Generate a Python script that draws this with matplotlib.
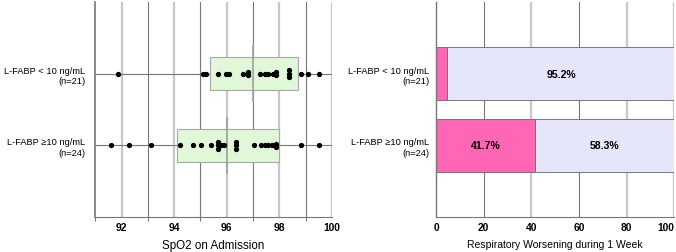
import numpy as np
import matplotlib.pyplot as plt

plt.rcParams['font.family'] = ['Liberation Sans', 'DejaVu Sans']

groups = ["L-FABP < 10 ng/mL\n(n=21)", "L-FABP \u226510 ng/mL\n(n=24)"]

spo2_low = [91.88, 95.11, 95.23, 95.67, 95.97, 96.10, 96.61, 96.82, 96.82,
            97.28, 97.44, 97.59, 97.76, 97.89, 97.89, 98.37, 98.37, 98.37,
            98.84, 99.10, 99.52]
spo2_high = [91.60, 92.29, 93.12, 94.21, 94.73, 95.01, 95.42, 95.67, 95.67,
             95.67, 95.78, 95.91, 96.36, 96.36, 96.36, 97.05, 97.31, 97.44,
             97.57, 97.72, 97.86, 97.86, 98.84, 99.52]

# box: q1, median, q3
box_low = [95.38, 97.0, 98.72]
box_high = [94.11, 96.0, 98.0]

worse_pct = [4.8, 41.7]
not_worse_pct = [95.2, 58.3]


def stack_offsets(vals, step=0.046):
    vals = np.asarray(vals)
    off = np.zeros(len(vals))
    for v in np.unique(vals):
        idx = np.where(vals == v)[0]
        k = len(idx)
        off[idx] = (np.arange(k) - (k - 1) / 2) * step
    return off


fig = plt.figure(figsize=(6.76, 2.53), dpi=100)
ax1 = fig.add_axes([0.141, 0.138, 0.3498, 0.85])
ax2 = fig.add_axes([0.645, 0.138, 0.3527, 0.85])

dark = '#777777'
light = '#c8c8c8'

# ---- left: dot + box plot ----
ax1.set_xlim(91, 100)
ax1.set_ylim(0, 3)
for v in range(92, 101, 2):
    ax1.axvline(v, color=light, lw=1.6, zorder=0)
for v in range(93, 100, 2):
    ax1.axvline(v, color=dark, lw=0.8, zorder=0)
ax1.axhline(2, color=dark, lw=0.8, zorder=0)
ax1.axhline(1, color=dark, lw=0.8, zorder=0)

rows = [2, 1]
for y, box, vals in zip(rows, [box_low, box_high], [spo2_low, spo2_high]):
    q1, med, q3 = box
    ax1.add_patch(plt.Rectangle((q1, y - 0.23), q3 - q1, 0.46,
                                facecolor='#e0f7d8', edgecolor='#a8a8a8',
                                lw=0.8, zorder=1))
    ax1.plot([med, med], [y - 0.38, y + 0.38], color='#a0a0a0', lw=1.2, zorder=2)
    ax1.plot(vals, y + stack_offsets(vals), 'o', color='black', ms=2.8,
             mec='black', zorder=3)

ax1.set_xticks(range(92, 101, 2))
ax1.set_xticks(range(91, 100, 2), minor=True)
ax1.tick_params(axis='x', which='major', length=0, pad=3.5, labelsize=7.4)
ax1.tick_params(axis='x', which='minor', length=3, color=dark, width=0.8)
for lab in ax1.get_xticklabels():
    lab.set_fontweight('bold')
ax1.set_yticks(rows)
ax1.set_yticklabels(groups, fontsize=6.7, ha='right')
ax1.tick_params(axis='y', length=0, pad=7)
for s in ['top', 'right']:
    ax1.spines[s].set_visible(False)
ax1.spines['left'].set_color(dark)
ax1.spines['left'].set_linewidth(1.2)
ax1.spines['bottom'].set_color(dark)
ax1.spines['bottom'].set_linewidth(0.8)
ax1.set_xlabel("SpO2 on Admission", fontsize=8.4, labelpad=5)

# ---- right: stacked percentage bars ----
ax2.set_xlim(0, 100)
ax2.set_ylim(0, 3)
for v in [40, 80, 100]:
    ax2.axvline(v, color=light, lw=1.6, zorder=0)
for v in [20, 60]:
    ax2.axvline(v, color=dark, lw=0.8, zorder=0)

ax2.barh(rows, worse_pct, height=0.74, color='#ff66b3', edgecolor='#666666',
         lw=0.6, zorder=2)
ax2.barh(rows, not_worse_pct, left=worse_pct, height=0.74, color='#e6e6fa',
         edgecolor='#666666', lw=0.6, zorder=2)
for y, w, nw in zip(rows, worse_pct, not_worse_pct):
    if w > 10:
        ax2.text(w / 2, y, f"{w:.1f}%", ha='center', va='center',
                 fontsize=7.6, fontweight='bold', zorder=3)
    ax2.text(w + nw / 2, y, f"{nw:.1f}%", ha='center', va='center',
             fontsize=7.6, fontweight='bold', zorder=3)

ax2.set_xticks(range(0, 101, 20))
ax2.tick_params(axis='x', length=0, pad=3.5, labelsize=7.4)
for lab in ax2.get_xticklabels():
    lab.set_fontweight('bold')
ax2.get_xticklabels()[-1].set_ha('right')
ax2.set_yticks(rows)
ax2.set_yticklabels(groups, fontsize=6.7, ha='right')
ax2.tick_params(axis='y', length=0, pad=5)
for s in ['top', 'right']:
    ax2.spines[s].set_visible(False)
ax2.spines['left'].set_color(dark)
ax2.spines['left'].set_linewidth(1.0)
ax2.spines['bottom'].set_color(dark)
ax2.spines['bottom'].set_linewidth(0.8)
ax2.set_xlabel("Respiratory Worsening during 1 Week", fontsize=7.5, labelpad=5)

fig.savefig("out.png", dpi=100)
